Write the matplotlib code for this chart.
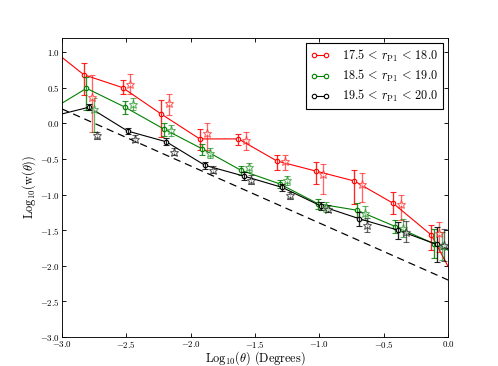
import numpy as np
import matplotlib
matplotlib.use('Agg')
import matplotlib.pyplot as plt

plt.rcParams['font.family'] = 'serif'
plt.rcParams['font.serif'] = ['cmr10', 'DejaVu Serif']
plt.rcParams['mathtext.fontset'] = 'cm'
plt.rcParams['axes.formatter.use_mathtext'] = True

# angular bins (log10 degrees)
theta = np.array([-2.83, -2.53, -2.23, -1.93, -1.63, -1.33, -1.03, -0.73, -0.43, -0.13])
theta_lo, theta_hi = -3.13, 0.17  # line ends beyond the plotted range

labels = [r'$17.5\,<\,r_{\rm P1}\,<\,18.0$',
          r'$18.5\,<\,r_{\rm P1}\,<\,19.0$',
          r'$19.5\,<\,r_{\rm P1}\,<\,20.0$']
colors = ['#ff0000', '#008000', 'k']
shift = [0.0, 0.02, 0.04]

# circles
w_c = [
    [0.68, 0.50, 0.13, -0.22, -0.22, -0.53, -0.67, -0.81, -1.12, -1.57],
    [0.49, 0.225, -0.08, -0.36, -0.66, -0.85, -1.13, -1.22, -1.45, -1.69],
    [0.225, -0.11, -0.26, -0.59, -0.74, -0.90, -1.16, -1.34, -1.50, -1.70],
]
err_c_lo = [
    [0.28, 0.09, 0.32, 0.16, 0.09, 0.13, 0.18, 0.32, 0.15, 0.21],
    [0.31, 0.09, 0.10, 0.08, 0.06, 0.06, 0.07, 0.10, 0.09, 0.20],
    [0.04, 0.04, 0.05, 0.05, 0.06, 0.05, 0.06, 0.10, 0.12, 0.25],
]
err_c_hi = [
    [0.16, 0.10, 0.19, 0.14, 0.07, 0.08, 0.13, 0.15, 0.15, 0.14],
    [0.155, 0.08, 0.09, 0.07, 0.06, 0.06, 0.07, 0.10, 0.09, 0.20],
    [0.04, 0.04, 0.05, 0.05, 0.06, 0.05, 0.06, 0.10, 0.12, 0.25],
]
line_ends = [(1.11, -2.59), (0.16, -1.94), (0.09, -1.90)]

# stars
w_s = [
    [0.37, 0.55, 0.29, -0.14, -0.24, -0.53, -0.71, -0.85, -1.14, -1.54],
    [0.20, 0.27, -0.10, -0.42, -0.62, -0.80, -1.17, -1.26, -1.47, -1.72],
    [-0.17, -0.22, -0.40, -0.65, -0.79, -1.01, -1.20, -1.43, -1.52, -1.71],
]
err_s_lo = [
    [0.49, 0.14, 0.18, 0.24, 0.14, 0.13, 0.28, 0.25, 0.22, 0.26],
    [0.32, 0.08, 0.08, 0.07, 0.06, 0.06, 0.07, 0.10, 0.12, 0.20],
    [0.05, 0.05, 0.05, 0.05, 0.06, 0.05, 0.05, 0.10, 0.15, 0.22],
]
err_s_hi = [
    [0.31, 0.14, 0.12, 0.14, 0.12, 0.08, 0.14, 0.15, 0.14, 0.16],
    [0.15, 0.08, 0.08, 0.07, 0.06, 0.06, 0.07, 0.10, 0.12, 0.20],
    [0.05, 0.05, 0.05, 0.05, 0.06, 0.05, 0.05, 0.10, 0.15, 0.22],
]

# reference power law
ref_x = [-3.0, 0.0]
ref_y = [0.2, -2.2]

fig = plt.figure(figsize=(6.225, 4.575), dpi=80)
ax = fig.add_axes([0.1245, 0.079, 0.7755, 0.818])

for i in range(3):
    xc = theta + shift[i]
    xl = np.concatenate([[theta_lo + shift[i]], xc, [theta_hi + shift[i]]])
    yl = np.concatenate([[line_ends[i][0]], w_c[i], [line_ends[i][1]]])
    ax.plot(xl, yl, '-', color=colors[i], lw=1.0, label=labels[i],
            marker='o', ms=4, mfc='white', mec=colors[i], markevery=list(range(1, 11)))
    ax.errorbar(xc, w_c[i], yerr=[err_c_lo[i], err_c_hi[i]], fmt='none',
                ecolor=colors[i], elinewidth=1.2, capsize=3, alpha=0.85)
    ax.errorbar(xc + 0.06, w_s[i], yerr=[err_s_lo[i], err_s_hi[i]], fmt='*',
                color=colors[i], mfc='white', mec=colors[i], ms=8,
                ecolor=colors[i], elinewidth=1.2, capsize=3, alpha=0.6)

ax.plot(ref_x, ref_y, '--', color='k', lw=1.1, dashes=(6, 4))

ax.set_xlim(-3.0, 0.0)
ax.set_ylim(-3.0, 1.2)
ax.set_xticks(np.arange(-3.0, 0.01, 0.5))
ax.set_yticks(np.arange(-3.0, 1.01, 0.5))
ax.tick_params(labelsize=8, direction='in', length=4, top=True, right=True, pad=2)
ax.set_xlabel(r'$\mathrm{Log}_{10}(\theta)$ (Degrees)', fontsize=11, labelpad=-1)
ax.set_ylabel(r'$\mathrm{Log}_{10}(\mathrm{w}(\theta))$', fontsize=11, labelpad=2)

leg = ax.legend(loc='upper right', numpoints=2, fontsize=11, fancybox=False,
                framealpha=1, edgecolor='k', handlelength=1.6, handletextpad=1.0,
                borderaxespad=0.4, labelspacing=0.35)

fig.savefig('out.png', dpi=80)
